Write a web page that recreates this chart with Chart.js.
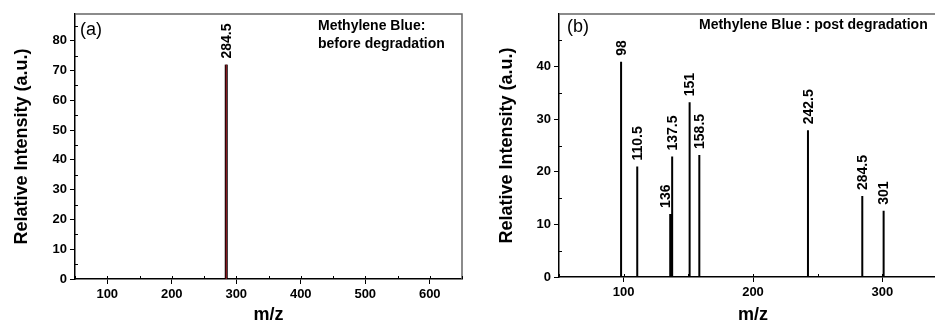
<!DOCTYPE html>
<html>
<head>
<meta charset="utf-8">
<script src="https://cdn.jsdelivr.net/npm/chart.js@4.4.1/dist/chart.umd.min.js"></script>
<style>
  html, body { margin: 0; padding: 0; background: #fff; overflow: hidden; width: 935px; height: 320px; }
  .panel { position: absolute; top: 0; height: 320px; }
  #panelA { left: 0; width: 470px; }
  #panelB { left: 470px; width: 480px; }
</style>
</head>
<body>
<div class="panel" id="panelA"><canvas id="chartA"></canvas></div>
<div class="panel" id="panelB"><canvas id="chartB"></canvas></div>
<script>
// (a) avant dégradation
const mzA = [284.5];
const intensityA = [72];
const xTicksA = [100, 200, 300, 400, 500, 600];
const yTicksA = [0, 10, 20, 30, 40, 50, 60, 70, 80];

// (b) après dégradation
const mzB = [98, 110.5, 136, 137.5, 151, 158.5, 242.5, 284.5, 301];
const intensityB = [40.9, 21.0, 12.0, 22.9, 33.2, 23.2, 27.9, 15.4, 12.6];
const xTicksB = [100, 200, 300];
const yTicksB = [0, 10, 20, 30, 40];

const FONT = "'Liberation Sans', Arial, sans-serif";

// transforme les pics en segments verticaux (0 -> intensité)
function sticks(mz, vals) {
    const pts = [];
    mz.forEach((m, i) => {
        pts.push({ x: m, y: 0 }, { x: m, y: vals[i] }, { x: m, y: null });
    });
    return pts;
}

// Cadre, ticks mineurs, étiquettes des pics et textes
const decor = {
    id: 'decor',
    beforeDatasetsDraw(chart, args, opts) {
        const { ctx, chartArea: a, scales } = chart;
        ctx.save();
        ctx.strokeStyle = '#666';
        ctx.lineWidth = 1.5;
        ctx.beginPath();
        ctx.moveTo(a.left, a.top);
        ctx.lineTo(a.right, a.top);
        ctx.lineTo(a.right, a.bottom);
        ctx.stroke();

        // ticks mineurs vers l'intérieur
        ctx.strokeStyle = '#000';
        ctx.lineWidth = 1;
        for (let v = opts.xMinor[0]; v <= scales.x.max; v += opts.xMinor[1]) {
            const px = Math.round(scales.x.getPixelForValue(v)) + 0.5;
            ctx.beginPath();
            ctx.moveTo(px, a.bottom);
            ctx.lineTo(px, a.bottom - 3);
            ctx.stroke();
        }
        for (let v = opts.yMinor[0]; v <= scales.y.max; v += opts.yMinor[1]) {
            const py = Math.round(scales.y.getPixelForValue(v)) + 0.5;
            ctx.beginPath();
            ctx.moveTo(a.left, py);
            ctx.lineTo(a.left + 3, py);
            ctx.stroke();
        }
        ctx.restore();
    },
    afterDatasetsDraw(chart, args, opts) {
        const { ctx, chartArea: a, scales } = chart;
        ctx.save();
        ctx.fillStyle = '#000';

        // étiquettes verticales au-dessus des pics
        ctx.font = 'bold 14px ' + FONT;
        ctx.textAlign = 'left';
        ctx.textBaseline = 'middle';
        opts.mz.forEach((m, i) => {
            const px = scales.x.getPixelForValue(m) + 1 + (opts.shift[m] || 0);
            const py = scales.y.getPixelForValue(opts.vals[i]) - 6;
            ctx.save();
            ctx.translate(px, py);
            ctx.rotate(-Math.PI / 2);
            ctx.fillText(String(m), 0, 0);
            ctx.restore();
        });

        // lettre du panneau
        ctx.font = '18px ' + FONT;
        ctx.fillText(opts.letter, a.left + opts.letterPos[0], opts.letterPos[1]);

        // titre du panneau
        ctx.font = 'bold 14px ' + FONT;
        opts.title.forEach((line, i) => {
            ctx.fillText(line, opts.titlePos[0], opts.titlePos[1] + i * 18);
        });
        ctx.restore();
    }
};

function makeChart(id, cfg) {
    const ctx = document.getElementById(id).getContext('2d');
    return new Chart(ctx, {
        type: 'line',
        data: { datasets: cfg.datasets },
        options: {
            responsive: true,
            maintainAspectRatio: false,
            animation: false,
            events: [],
            layout: { padding: { top: 14, right: cfg.padRight, left: 0, bottom: 0 } },
            elements: { point: { radius: 0 }, line: { tension: 0 } },
            plugins: {
                legend: { display: false },
                tooltip: { enabled: false },
                decor: cfg.decor
            },
            scales: {
                x: {
                    type: 'linear',
                    min: cfg.xRange[0],
                    max: cfg.xRange[1],
                    afterBuildTicks(s) { s.ticks = cfg.xTicks.map(v => ({ value: v })); },
                    afterFit(s) { s.height = cfg.xHeight; },
                    border: { color: '#000', width: 1.5 },
                    grid: { drawOnChartArea: false, tickLength: 5, color: '#000', tickWidth: 1 },
                    ticks: { color: '#000', padding: 3, maxRotation: 0, font: { family: FONT, size: 13, weight: 'bold' } },
                    title: { display: true, text: 'm/z', color: '#000', padding: { top: 0, bottom: -6 }, font: { family: FONT, size: 18, weight: 'bold' } }
                },
                y: {
                    min: 0,
                    max: cfg.yMax,
                    afterBuildTicks(s) { s.ticks = cfg.yTicks.map(v => ({ value: v })); },
                    afterFit(s) { s.width = cfg.yWidth; },
                    border: { color: '#000', width: 1.5 },
                    grid: { drawOnChartArea: false, tickLength: 5, color: '#000', tickWidth: 1 },
                    ticks: { color: '#000', padding: 3, font: { family: FONT, size: 13, weight: 'bold' } },
                    title: { display: true, text: 'Relative Intensity (a.u.)', color: '#000', padding: { top: cfg.yTitlePad, bottom: 0 }, font: { family: FONT, size: 18, weight: 'bold' } }
                }
            }
        },
        plugins: [decor]
    });
}

makeChart('chartA', {
    datasets: [
        { data: sticks(mzA, intensityA), borderColor: '#b0202a', borderWidth: 1, spanGaps: false },
        { data: sticks(mzA, intensityA), borderColor: '#000', borderWidth: 3, spanGaps: false }
    ],
    xRange: [50, 650], xTicks: xTicksA, yMax: 89, yTicks: yTicksA,
    xHeight: 41, yWidth: 75, padRight: 8, yTitlePad: 11,
    decor: {
        mz: mzA, vals: intensityA, shift: {},
        xMinor: [50, 50], yMinor: [5, 10],
        letter: '(a)', letterPos: [5, 30],
        title: ['Methylene Blue:', 'before degradation'], titlePos: [318, 26]
    }
});

makeChart('chartB', {
    datasets: [
        { data: sticks(mzB, intensityB), borderColor: '#000', borderWidth: 2, spanGaps: false }
    ],
    xRange: [50, 350], xTicks: xTicksB, yMax: 50, yTicks: yTicksB,
    xHeight: 43, yWidth: 89, padRight: 3, yTitlePad: 26,
    decor: {
        mz: mzB, vals: intensityB, shift: { 136: -5 },
        xMinor: [50, 50], yMinor: [5, 10],
        letter: '(b)', letterPos: [8, 27],
        title: ['Methylene Blue : post degradation'], titlePos: [229, 25]
    }
});
</script>
</body>
</html>
